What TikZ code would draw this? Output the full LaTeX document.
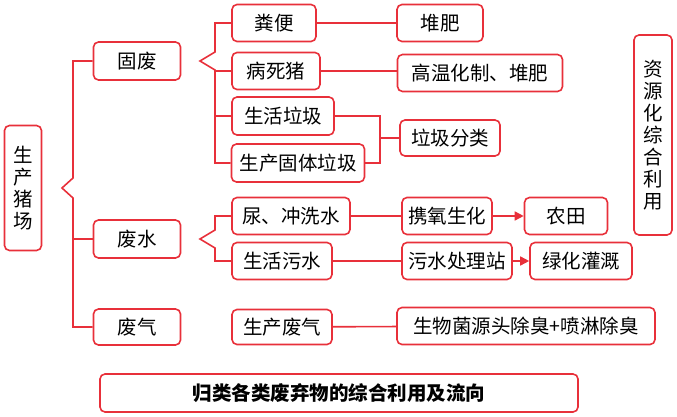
\documentclass[tikz,border=0pt]{standalone}
\usepackage{fontspec}
\setmainfont{Noto Sans CJK SC}
\usetikzlibrary{positioning, arrows.meta}
\definecolor{linered}{HTML}{E8303A}

\begin{document}
\begin{tikzpicture}[
    x=1pt, y=-1pt,
    box/.style={
        rectangle,
        draw=linered,
        line width=1.6pt,
        fill=white,
        rounded corners=5pt,
        font=\fontsize{19.5}{22}\selectfont,
        inner sep=0pt
    },
    line/.style={
        draw=linered,
        line width=1.6pt
    },
    arrow/.style={
        line,
        -{Triangle[length=9pt,width=9pt]}
    }
]
\useasboundingbox (0,0) rectangle (677,417);

% Nodes
\node [box, minimum width=37pt, minimum height=125pt, text width=20pt, align=center] (farm) at (23,188) {生\\产\\猪\\场};
\node [box, minimum width=87pt, minimum height=38pt] (solid) at (137,61) {固废};
\node [box, minimum width=87pt, minimum height=38pt] (water) at (137,239) {废水};
\node [box, minimum width=87pt, minimum height=36pt] (gas) at (137,327) {废气};

\node [box, minimum width=84pt, minimum height=37pt] (dung) at (274,23) {粪便};
\node [box, minimum width=88pt, minimum height=37pt] (dead) at (276,71) {病死猪};
\node [box, minimum width=102pt, minimum height=38pt] (life) at (283,116) {生活垃圾};
\node [box, minimum width=133pt, minimum height=38pt] (prod) at (298,163) {生产固体垃圾};
\node [box, minimum width=86pt, minimum height=37pt] (compost) at (440,23) {堆肥};
\node [box, minimum width=165pt, minimum height=37pt] (render) at (480,73) {高温化制、堆肥};
\node [box, minimum width=100pt, minimum height=36pt] (sort) at (450,138) {垃圾分类};

\node [box, minimum width=118pt, minimum height=37pt] (flush) at (291,216) {尿、冲洗水};
\node [box, minimum width=100pt, minimum height=37pt] (sewage) at (282,261) {生活污水};
\node [box, minimum width=90pt, minimum height=37pt] (bio) at (447,216) {携氧生化};
\node [box, minimum width=110pt, minimum height=37pt] (plant) at (457,261) {污水处理站};
\node [box, minimum width=83pt, minimum height=37pt] (field) at (566,216) {农田};
\node [box, minimum width=102pt, minimum height=37pt] (green) at (581,261) {绿化灌溉};

\node [box, minimum width=100pt, minimum height=35pt] (waste) at (282,327) {生产废气};
\node [box, minimum width=258pt, minimum height=37pt] (deodor) at (526,326) {生物菌源头除臭+喷淋除臭};

\node [box, minimum width=38pt, minimum height=200pt, text width=20pt, align=center] (reuse) at (653,135) {资\\源\\化\\综\\合\\利\\用};
\node [box, minimum width=478pt, minimum height=38pt, font=\fontsize{19.5}{22}\selectfont\bfseries] (title) at (339,393) {归类各类废弃物的综合利用及流向};

% Brackets
\coordinate (farmtip) at (62,188);
\path [line] (solid.west) -- (73,61) -- (73,178) -- (farmtip) -- (73,198) -- (73,327) -- (gas.west);
\path [line] (73,239) -- (water.west);
\coordinate (solidtip) at (200,61);
\path [line] (dung.west) -- (215,23) -- (215,52) -- (solidtip) -- (215,70) -- (215,163) -- (prod.west);
\path [line] (dead.west) -- (215,71);
\path [line] (life.west) -- (215,116);
\coordinate (watertip) at (200,239);
\path [line] (flush.west) -- (215,216) -- (215,230) -- (watertip) -- (215,248) -- (215,261) -- (sewage.west);

% Paths
\path [line] (dung) -- (compost);
\path [line] (dead.east) -- (render.west |- dead.east);
\path [line] (life.east) -- (380,116) -- (380,163) -- (prod.east);
\path [line] (380,138) -- (sort.west);
\path [line] (flush) -- (bio);
\path [line] (sewage) -- (plant);
\path [arrow] (bio) -- (field);
\path [arrow] (plant) -- (green);
\path [line] (waste) -- (deodor);

\end{tikzpicture}
\end{document}
